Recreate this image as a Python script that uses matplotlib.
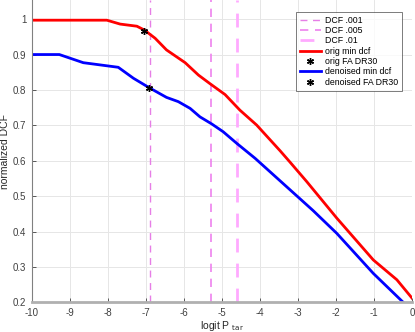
import numpy as np
import matplotlib
matplotlib.use("Agg")
import matplotlib.pyplot as plt

plt.rcParams["font.family"] = ["Liberation Sans", "DejaVu Sans"]

# logit P_tar grid and min DCF curves
orig_x = [-10, -8.03, -7.68, -7.24, -7.04, -6.76, -6.46, -5.97, -5.62, -5.32, -4.92,
          -4.53, -4.09, -3.47, -3.21, -2.77, -1.98, -1.02, -0.40, 0.0]
orig_y = [0.997, 0.997, 0.986, 0.980, 0.969, 0.946, 0.913, 0.877, 0.842, 0.818, 0.787,
          0.743, 0.701, 0.628, 0.596, 0.541, 0.438, 0.320, 0.264, 0.212]

den_x = [-10, -9.28, -8.65, -7.73, -7.33, -6.91, -6.46, -6.15, -5.84, -5.58, -5.27,
         -4.97, -4.61, -4.13, -3.21, -2.60, -1.98, -1.02, -0.23, 0.0]
den_y = [0.900, 0.900, 0.877, 0.864, 0.833, 0.806, 0.779, 0.767, 0.748, 0.724, 0.704,
         0.682, 0.649, 0.607, 0.518, 0.459, 0.395, 0.282, 0.200, 0.175]

orig_fa = (-7.04, 0.967)
den_fa = (-6.91, 0.806)

dcf_labels = ["DCF .001", "DCF .005", "DCF .01"]
dcf_ptar = [0.001, 0.005, 0.01]
dcf_styles = [("#e67ee6", 1.0), ("#ee82ee", 1.2), ("#ffaaff", 2.0)]

fig = plt.figure(figsize=(4.15, 3.32), dpi=100)
ax = fig.add_axes([0.077, 0.089, 0.916, 0.911])

for lab, p, (c, lw) in zip(dcf_labels, dcf_ptar, dcf_styles):
    lx = np.log(p / (1 - p))
    ax.axvline(lx, color=c, lw=lw, ls=(0, (5, 4)), label=lab)

asterisk = (6, 2, 0)
ax.plot(orig_x, orig_y, color="#ff0000", lw=2, label="orig min dcf")
ax.plot([orig_fa[0]], [orig_fa[1]], ls="none", marker=asterisk, color="k",
        ms=5, mew=1.0, label="orig FA DR30")
ax.plot(den_x, den_y, color="#0000ff", lw=2, label="denoised min dcf")
ax.plot([den_fa[0]], [den_fa[1]], ls="none", marker=asterisk, color="k",
        ms=5, mew=1.0, label="denoised FA DR30")

ax.set_xlim(-10, 0)
ax.set_ylim(0.2, 1.054)
ax.set_xticks(np.arange(-10, 1, 1))
ax.set_yticks(np.arange(0.2, 1.01, 0.1))
ax.set_xticklabels([str(v) for v in range(-10, 1)])
ax.set_yticklabels(["0.2", "0.3", "0.4", "0.5", "0.6", "0.7", "0.8", "0.9", "1"])
ax.tick_params(direction="in", length=3, labelsize=7, colors="#404040",
               width=0.6, pad=4)
ax.grid(True, color="#e6e6e6", lw=0.7)
ax.set_axisbelow(True)
for s in ["top", "right"]:
    ax.spines[s].set_visible(False)
ax.spines["left"].set_color("#808080")
ax.spines["left"].set_linewidth(0.8)
ax.spines["bottom"].set_color("#b0b0b0")
ax.spines["bottom"].set_linewidth(2)

ax.set_xlabel(r"logit P $_{\rm tar}$", fontsize=7.5, color="#262626", labelpad=1)
ax.set_ylabel("normalized DCF", fontsize=7.5, color="#262626", labelpad=2)

leg = ax.legend(loc="upper right", bbox_to_anchor=(0.985, 0.975), fontsize=6.3,
                frameon=True, fancybox=False, edgecolor="#404040",
                handlelength=2.4, labelspacing=0.15, borderpad=0.45,
                handletextpad=0.5)
leg.get_frame().set_linewidth(0.6)

fig.savefig("out.png", dpi=100)
